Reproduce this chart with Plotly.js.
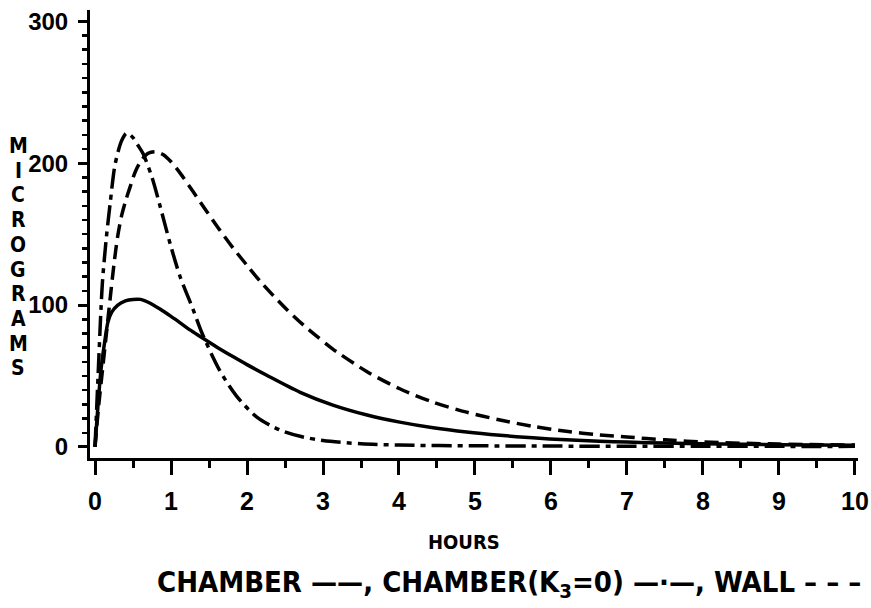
<!DOCTYPE html>
<html>
<head>
<meta charset="utf-8">
<script src="https://cdn.plot.ly/plotly-3.0.1.min.js"></script>
<style>
  html, body { margin: 0; padding: 0; background: #fff; }
  #chart { width: 871px; height: 608px; }
</style>
</head>
<body>
<div id="chart"></div>
<script>
// ---- data ----
const hoursChamber = [0, 0.04, 0.08, 0.13, 0.17, 0.22, 0.3, 0.4, 0.5, 0.6, 0.7, 0.86, 1.0, 1.12, 1.25, 1.38, 1.6, 1.82, 2.0, 2.26, 2.7, 3.13, 3.58, 4.01, 4.45, 4.89, 5.33, 5.76, 6.2, 6.64, 7.0, 7.5, 8.0, 9.0, 10.0];
const chamber      = [0, 30, 55, 75, 88, 95, 100, 103, 104, 104, 102, 97, 92, 87.5, 82.5, 78, 70.5, 63.5, 58, 50.5, 38.5, 29.5, 22.5, 17.5, 13.5, 10.5, 8.2, 6.4, 5.0, 4.0, 3.4, 2.7, 2.2, 1.6, 1.2];

const hoursK3 = [0, 0.04, 0.08, 0.1, 0.15, 0.2, 0.26, 0.33, 0.37, 0.41, 0.45, 0.5, 0.56, 0.63, 0.75, 0.86, 0.99, 1.12, 1.29, 1.41, 1.64, 1.86, 2.13, 2.43, 2.7, 3.0, 3.5, 4.0, 5.0, 6.0, 7.0, 8.0, 9.0, 10.0];
const chamberK3 = [0, 50, 99, 118, 148, 172, 198, 213, 218, 221, 220.5, 218, 213, 207, 190, 169, 143, 120, 97, 80, 54, 36, 21, 12, 7.5, 4.5, 2.2, 1.3, 0.8, 0.6, 0.5, 0.5, 0.4, 0.4];

const hoursWall = [0, 0.05, 0.1, 0.15, 0.2, 0.25, 0.3, 0.35, 0.4, 0.46, 0.53, 0.61, 0.7, 0.8, 0.9, 1.0, 1.12, 1.29, 1.47, 1.64, 1.82, 2.0, 2.17, 2.34, 2.52, 2.74, 2.92, 3.13, 3.58, 4.01, 4.45, 4.89, 5.33, 5.76, 6.2, 6.64, 7.0, 7.5, 8.0, 9.0, 10.0];
const wall      = [0, 30, 55, 80, 105, 129, 149, 163, 173, 183, 194, 202, 207, 208, 206, 201, 193, 180, 166, 153, 140, 128, 117, 107, 97, 86, 78, 69, 53, 41, 31.5, 24.5, 19, 14.5, 11, 8.5, 7.0, 5.0, 3.5, 2.0, 1.3];

const xTickVals = [0, 1, 2, 3, 4, 5, 6, 7, 8, 9, 10];
const xTickText = ["0", "1", "2", "3", "4", "5", "6", "7", "8", "9", "10"];
const yTickVals = [0, 100, 200, 300];
const yTickText = ["0", "100", "200", "300"];

const yTitleLetters = ["M", "I", "C", "R", "O", "G", "R", "A", "M", "S"];
const xTitle = "HOURS";
const legendText = "CHAMBER ——, CHAMBER(K<sub>3</sub>=0) —·—, WALL – – –";

// ---- drawing ----
const FONT = "'DejaVu Sans Condensed', 'Liberation Sans', sans-serif";
const NUMFONT = "'Liberation Sans', Arial, sans-serif";
const W = 871, H = 608;
const M = { l: 90, r: 13, t: 10, b: 150 };
const plotW = W - M.l - M.r, plotH = H - M.t - M.b;
const px2paperX = px => (px - M.l) / plotW;
const px2paperY = py => 1 - (py - M.t) / plotH;

const lineW = 3.5;
const traces = [
  { x: hoursChamber, y: chamber, mode: "lines", name: "CHAMBER",
    line: { color: "#000", width: lineW, shape: "spline", smoothing: 0.8 } },
  { x: hoursK3, y: chamberK3, mode: "lines", name: "CHAMBER(K3=0)",
    line: { color: "#000", width: lineW, shape: "spline", smoothing: 0.8, dash: "20px,6px,5px,6px" } },
  { x: hoursWall, y: wall, mode: "lines", name: "WALL",
    line: { color: "#000", width: lineW, shape: "spline", smoothing: 0.8, dash: "14px,7px" } }
];

const annotations = [];
yTitleLetters.forEach((ch, i) => {
  annotations.push({
    text: "<b>" + ch + "</b>", xref: "paper", yref: "paper",
    x: px2paperX(18), y: px2paperY(146 + i * 24.7),
    xanchor: "center", yanchor: "middle", showarrow: false,
    font: { family: FONT, size: 21, color: "#000" }
  });
});
annotations.push({
  text: "<b>" + xTitle + "</b>", xref: "paper", yref: "paper",
  x: px2paperX(464), y: px2paperY(542), xanchor: "center", yanchor: "middle",
  showarrow: false, font: { family: FONT, size: 20, color: "#000" }
});
annotations.push({
  text: "<b>" + legendText + "</b>", xref: "paper", yref: "paper",
  x: px2paperX(155), y: px2paperY(584), xanchor: "left", yanchor: "middle",
  showarrow: false, font: { family: FONT, size: 29, color: "#000" }
});

const layout = {
  width: W, height: H,
  margin: M,
  paper_bgcolor: "#fff", plot_bgcolor: "#fff",
  showlegend: false,
  font: { family: FONT, color: "#000" },
  xaxis: {
    range: [-0.066, 10.04], showgrid: false, zeroline: false,
    showline: true, linecolor: "#000", linewidth: 3,
    ticks: "outside", ticklen: 14, tickwidth: 3, tickcolor: "#000",
    tickmode: "array", tickvals: xTickVals, ticktext: xTickText,
    tickfont: { family: NUMFONT, size: 25, color: "#000", weight: "bold" },
    ticklabelstandoff: 5, ticklabeloverflow: "allow",
    minor: { dtick: 0.5, tick0: 0, ticks: "outside", ticklen: 7, tickwidth: 3, tickcolor: "#000", showgrid: false }
  },
  yaxis: {
    range: [-7.8, 308], showgrid: false, zeroline: false,
    showline: true, linecolor: "#000", linewidth: 3,
    ticks: "outside", ticklen: 9, tickwidth: 3, tickcolor: "#000",
    tickmode: "array", tickvals: yTickVals, ticktext: yTickText,
    tickfont: { family: NUMFONT, size: 24, color: "#000", weight: "bold" },
    ticklabelstandoff: 5, ticklabeloverflow: "allow",
    minor: { dtick: 10, tick0: 0, ticks: "outside", ticklen: 5, tickwidth: 2.5, tickcolor: "#000", showgrid: false }
  },
  annotations: annotations
};

Plotly.newPlot("chart", traces, layout, { staticPlot: true, displayModeBar: false });
</script>
</body>
</html>
